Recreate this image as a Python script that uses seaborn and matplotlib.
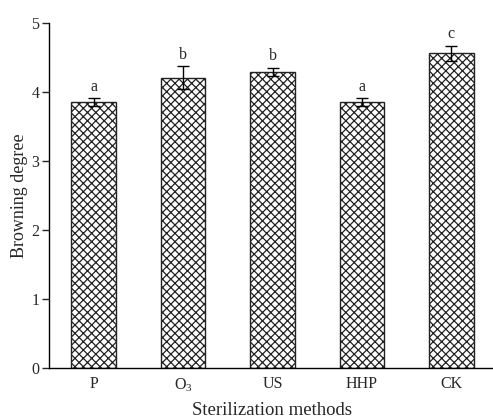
import matplotlib
matplotlib.use("Agg")
import matplotlib.pyplot as plt
import seaborn as sns
import pandas as pd

methods = ["P", "O$_3$", "US", "HHP", "CK"]
browning = [3.85, 4.21, 4.29, 3.85, 4.56]
errors = [0.06, 0.16, 0.06, 0.06, 0.11]
letters = ["a", "b", "b", "a", "c"]

sns.set_style("ticks")
plt.rcParams["font.family"] = ["Liberation Serif", "DejaVu Serif"]
plt.rcParams["mathtext.fontset"] = "custom"
plt.rcParams["mathtext.rm"] = "Liberation Serif"
plt.rcParams["mathtext.it"] = "Liberation Serif:italic"
plt.rcParams["hatch.linewidth"] = 0.9
plt.rcParams["hatch.color"] = "black"

df = pd.DataFrame({"method": methods, "browning": browning})

fig = plt.figure(figsize=(4.93, 4.19), dpi=100)
ax = fig.add_axes([49 / 493, 51 / 419, 447 / 493, 345 / 419])

sns.barplot(data=df, x="method", y="browning", color="white", width=0.5,
            edgecolor="#222222", linewidth=1.0, ax=ax)
for p in ax.patches:
    p.set_hatch("xxxx")
ax.errorbar(range(len(methods)), browning, yerr=errors, fmt="none",
            ecolor="black", elinewidth=1.0, capsize=4, capthick=1.0)
for i, (v, e, t) in enumerate(zip(browning, errors, letters)):
    ax.text(i, v + e + 0.05, t, ha="center", va="bottom", fontsize=11.5)

ax.set_xlim(-0.5, 4.5)
ax.set_ylim(0, 5)
ax.set_yticks([0, 1, 2, 3, 4, 5])
ax.tick_params(axis="y", direction="out", length=5, width=1, labelsize=11.5, pad=2)
ax.tick_params(axis="x", length=0, labelsize=11.5, pad=6)
ax.set_xlabel("Sterilization methods", fontsize=13.5, labelpad=6)
ax.set_ylabel("Browning degree", fontsize=13, labelpad=2)
for s in ["top", "right"]:
    ax.spines[s].set_visible(False)
for s in ["left", "bottom"]:
    ax.spines[s].set_linewidth(1.0)
    ax.spines[s].set_color("black")

fig.savefig("out.png", dpi=100)
